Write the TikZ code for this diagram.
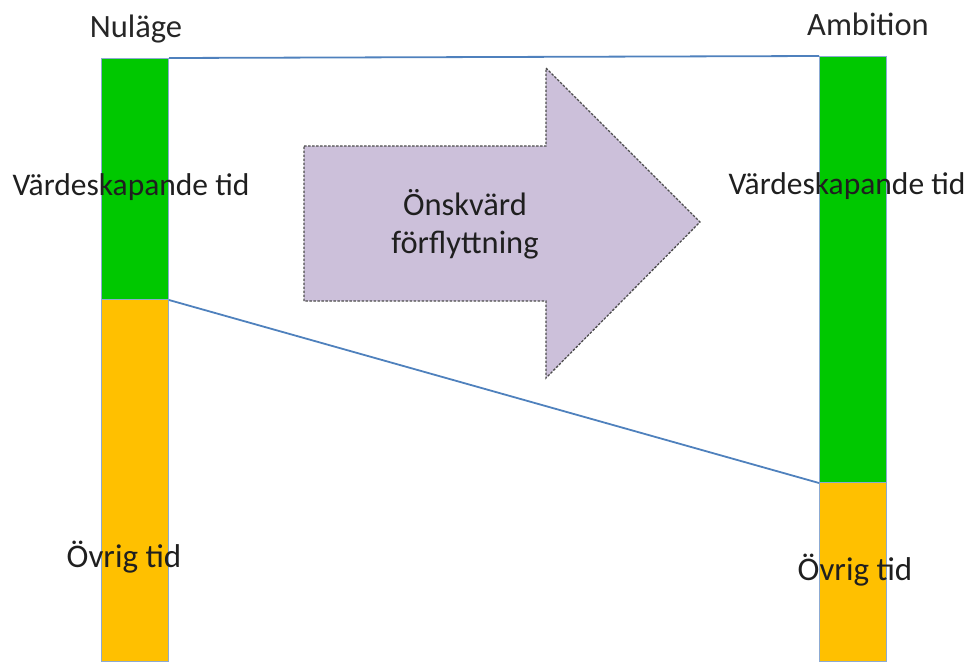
\documentclass[tikz,border=0pt]{standalone}
\usepackage{fontspec}
\setmainfont{Carlito}
\definecolor{bargreen}{RGB}{0,200,0}
\definecolor{barorange}{RGB}{255,192,0}
\definecolor{arrowfill}{RGB}{204,192,218}
\definecolor{linkblue}{RGB}{79,129,189}
\definecolor{baredge}{RGB}{140,170,210}
\begin{document}
\begin{tikzpicture}[x=1pt,y=-1pt,
  bar/.style={draw=baredge, line width=1pt, anchor=north west, inner sep=0pt, minimum width=67pt},
  link/.style={draw=linkblue, line width=1.8pt},
  lbl/.style={font=\fontsize{33}{38}\selectfont, text=black!88, inner sep=0pt},
  ttl/.style={font=\fontsize{32.5}{38}\selectfont, text=black!85, inner sep=0pt},
  bigarrow/.style={fill=arrowfill, draw=black!70, line width=1.3pt, dash pattern=on 2.5pt off 1.5pt}]
\useasboundingbox (0,0) rectangle (972,662);
% bars
\node[bar, fill=bargreen, minimum height=241pt] (lg) at (101,58) {};
\node[bar, fill=barorange, minimum height=362pt] (lo) at (101,299) {};
\node[bar, fill=bargreen, minimum height=426pt] (rg) at (819,56) {};
\node[bar, fill=barorange, minimum height=179pt] (ro) at (819,482) {};
% connectors
\draw[link] (lg.north east) -- (rg.north west);
\draw[link] (lg.south east) -- (rg.south west);
% big arrow
\draw[bigarrow] (304,146) -- (546,146) -- (546,68) -- (700,222) -- (546,378) -- (546,301) -- (304,301) -- cycle;
\node[lbl, align=center, font=\fontsize{32.5}{38}\selectfont] (mv) at (465,224) {Önskvärd\\förflyttning};
% titles
\node[ttl] (t1) at (136,29) {Nuläge};
\node[ttl] (t2) at (868,24) {Ambition};
% labels
\node[lbl, font=\fontsize{31.5}{38}\selectfont] (v1) at (131,187) {Värdeskapande tid};
\node[lbl, font=\fontsize{31.5}{38}\selectfont] (v2) at (847,186) {Värdeskapande tid};
\node[lbl] (o1) at (124,557) {Övrig tid};
\node[lbl] (o2) at (855,570) {Övrig tid};
\end{tikzpicture}
\end{document}
